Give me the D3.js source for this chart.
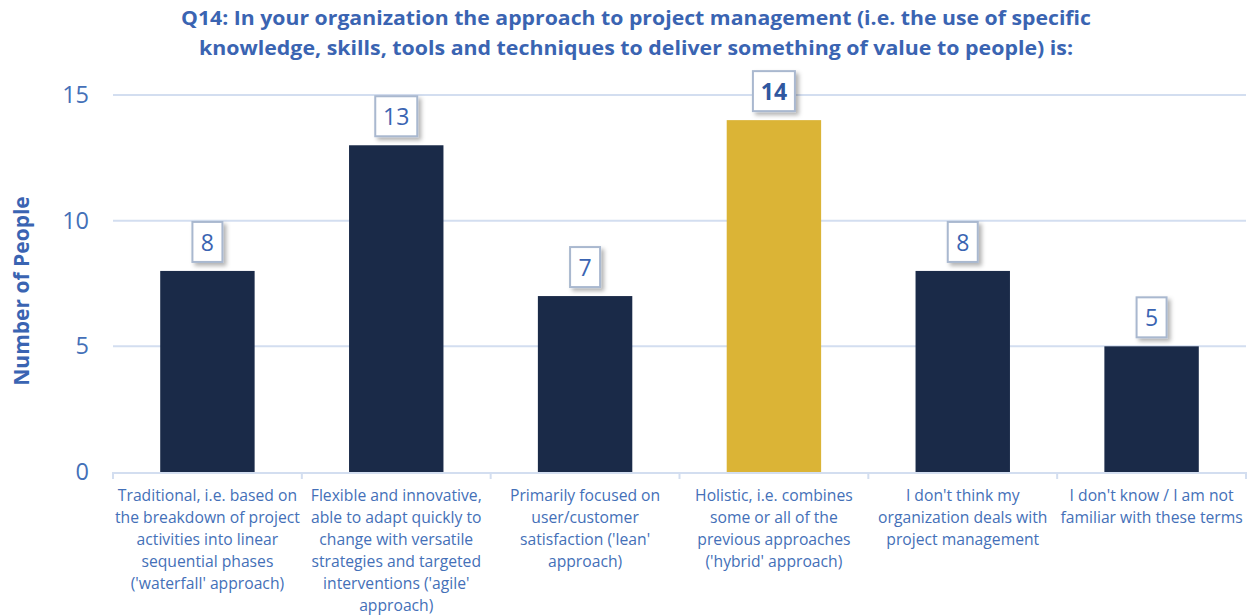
<!DOCTYPE html>
<html>
<head>
<meta charset="UTF-8">
<title>Q14</title>
<script src="https://cdn.jsdelivr.net/npm/d3@7"></script>
<style>
  body { margin:0; background:#fff; }
  svg text { font-family:"Open Sans", sans-serif; }
</style>
</head>
<body>
<script>
// données
var categories = [
  ["Traditional, i.e. based on", "the breakdown of project", "activities into linear", "sequential phases", "('waterfall' approach)"],
  ["Flexible and innovative,", "able to adapt quickly to", "change with versatile", "strategies and targeted", "interventions ('agile'", "approach)"],
  ["Primarily focused on", "user/customer", "satisfaction ('lean'", "approach)"],
  ["Holistic, i.e. combines", "some or all of the", "previous approaches", "('hybrid' approach)"],
  ["I don't think my", "organization deals with", "project management"],
  ["I don't know / I am not", "familiar with these terms"]
];
var values = [8, 13, 7, 14, 8, 5];
var highlight = [false, false, false, true, false, false];
var yTicks = [0, 5, 10, 15];
var titleLines = [
  "Q14: In your organization the approach to project management (i.e. the use of specific",
  "knowledge, skills, tools and techniques to deliver something of value to people) is:"
];

var W = 1255, H = 616,
 mLeft = 113, mRight = 1246, mTop = 95, mBottom = 472,
 cBar = '#1a2a48', cGold = '#dbb436', cTxt = '#4470b8', cGrid = '#d3def0';

var svg = d3.select('body').append('svg')
  .attr('width', W).attr('height', H);

var defs = svg.append('defs');
var f = defs.append('filter').attr('id','ombre')
  .attr('x','-30%').attr('y','-30%').attr('width','170%').attr('height','170%');
f.append('feDropShadow').attr('dx',3).attr('dy',3).attr('stdDeviation',2)
  .attr('flood-color','#000').attr('flood-opacity',0.3);

var x = d3.scaleBand()
  .domain(d3.range(values.length))
  .range([mLeft, mRight])
  .paddingInner(0.5).paddingOuter(0.25);
var xb = d3.scaleBand().domain(d3.range(values.length)).range([mLeft, mRight]);
var y = d3.scaleLinear().domain([0, 15]).range([mBottom, mTop]);

// titre
svg.append('g').selectAll('text').data(titleLines).enter().append('text')
  .attr('x', 636).attr('y', function(d,i){ return 25 + i*30; })
  .attr('text-anchor','middle')
  .attr('font-size', 19).attr('font-weight', 700)
  .attr('fill', '#3a64b2')
  .attr('textLength', function(d,i){ return i==0 ? 910 : 874; })
  .attr('lengthAdjust','spacingAndGlyphs')
  .text(function(d){ return d; });

// grille
svg.append('g').selectAll('line').data(yTicks.filter(function(d){return d>0;})).enter().append('line')
  .attr('x1', mLeft).attr('x2', mRight)
  .attr('y1', function(d){ return y(d); }).attr('y2', function(d){ return y(d); })
  .attr('stroke', cGrid).attr('stroke-width', 2);

// axe y
svg.append('g').selectAll('text').data(yTicks).enter().append('text')
  .attr('x', 89).attr('y', function(d){ return y(d) + 8; })
  .attr('text-anchor','end')
  .attr('font-size', 23.5).attr('fill', cTxt)
  .text(function(d){ return d; });

svg.append('text')
  .attr('transform','translate(29,291) rotate(-90)')
  .attr('text-anchor','middle')
  .attr('font-size', 21).attr('font-weight', 700).attr('fill', '#3a64b2')
  .text('Number of People');

// barres
svg.append('g').selectAll('rect').data(values).enter().append('rect')
  .attr('x', function(d,i){ return x(i); })
  .attr('y', function(d){ return y(d); })
  .attr('width', x.bandwidth())
  .attr('height', function(d){ return mBottom - y(d); })
  .attr('fill', function(d,i){ return highlight[i] ? cGold : cBar; });

// axe x
svg.append('line')
  .attr('x1', mLeft).attr('x2', mRight).attr('y1', mBottom + 1).attr('y2', mBottom + 1)
  .attr('stroke', cGrid).attr('stroke-width', 2);
svg.append('g').selectAll('line').data(d3.range(values.length + 1)).enter().append('line')
  .attr('x1', function(d){ return d < values.length ? xb(d) : mRight; })
  .attr('x2', function(d){ return d < values.length ? xb(d) : mRight; })
  .attr('y1', mBottom).attr('y2', mBottom + 7)
  .attr('stroke', cGrid).attr('stroke-width', 2);

var lab = svg.append('g').selectAll('text').data(categories).enter().append('text')
  .attr('text-anchor','middle')
  .attr('font-size', 15.7).attr('fill', cTxt)
  .attr('transform', function(d,i){ return 'translate(' + (xb(i) + xb.bandwidth()/2) + ',501)'; });
lab.selectAll('tspan').data(function(d){ return d; }).enter().append('tspan')
  .attr('x', 0).attr('y', function(d,i){ return i*22; })
  .text(function(d){ return d; });

// étiquettes de valeur
var et = svg.append('g').selectAll('g').data(values).enter().append('g')
  .attr('transform', function(d,i){ return 'translate(' + (x(i) + x.bandwidth()/2) + ',' + (y(d) - 9) + ')'; });
et.append('rect')
  .attr('x', function(d){ return d >= 10 ? -21 : -15; })
  .attr('y', -40)
  .attr('width', function(d){ return d >= 10 ? 42 : 30; })
  .attr('height', 40)
  .attr('fill', '#fff').attr('stroke', '#a9b8cf').attr('stroke-width', 2)
  .attr('filter', 'url(#ombre)');
et.append('text')
  .attr('text-anchor','middle').attr('y', -11)
  .attr('font-size', 23)
  .attr('font-weight', function(d,i){ return highlight[i] ? 700 : 400; })
  .attr('fill', function(d,i){ return highlight[i] ? '#2f57a0' : '#3a64b2'; })
  .text(function(d){ return d; });
</script>
</body>
</html>
